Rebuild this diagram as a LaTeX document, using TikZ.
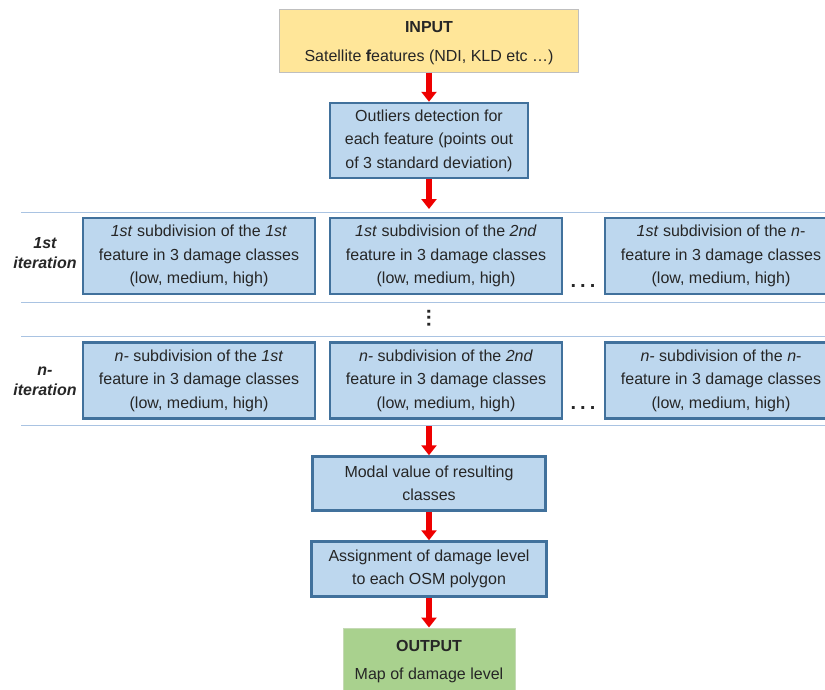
\documentclass[tikz,border=0pt]{standalone}
\usepackage{fontspec}
\setmainfont{Liberation Sans}
\usetikzlibrary{arrows.meta}
\definecolor{txt}{HTML}{262626}
\definecolor{inyellow}{HTML}{FFE699}
\definecolor{ingray}{HTML}{BFBFBF}
\definecolor{boxblue}{HTML}{BDD7EE}
\definecolor{boxedge}{HTML}{41719C}
\definecolor{outgreen}{HTML}{A9D18E}
\definecolor{outedge}{HTML}{C5D9B5}
\definecolor{sepline}{HTML}{A9C3E2}
\definecolor{arrred}{HTML}{EE0000}
\tikzset{
  every node/.style={text=txt, font=\fontsize{16}{23.5}\selectfont, inner sep=0pt},
  bluebox/.style={draw=boxedge, line width=2.5pt, fill=boxblue, align=center},
  rowbox/.style={bluebox, minimum width=232pt, minimum height=76pt},
  inbox/.style={draw=ingray, line width=1pt, fill=inyellow, align=center},
  outbox/.style={draw=outedge, line width=1pt, fill=outgreen, align=center},
  iterlabel/.style={align=center, font=\fontsize{16}{20}\selectfont\bfseries\itshape},
  sep/.style={draw=sepline, line width=1.5pt},
  redarrow/.style={draw=arrred, line width=6pt, -{Triangle[width=15pt,length=10pt]}, fill=arrred},
  dots/.style={font=\fontsize{20}{20}\selectfont\bfseries}
}
\begin{document}
\begin{tikzpicture}[x=1pt, y=-1pt]
\useasboundingbox (0,0) rectangle (825,689);
\clip (0,0) rectangle (825,689);

% separator lines
\draw[sep] (21,212.7) -- (825,212.7);
\draw[sep] (21,302.5) -- (825,302.5);
\draw[sep] (21,336.7) -- (825,336.7);
\draw[sep] (21,425.3) -- (825,425.3);

% input
\node[inbox, minimum width=299pt, minimum height=63pt] (input) at (429,40.5) {};
\node (inputT) at (429,27) {\textbf{INPUT}};
\node (inputS) at (429,57) {Satellite \textbf{f}eatures (NDI, KLD etc \dots)};

% outliers
\node[bluebox, minimum width=198pt, minimum height=75pt] (outl) at (429,140.5)
  {Outliers detection for\\each feature (points out\\of 3 standard deviation)};

\coordinate (a2end) at (429,209);
\coordinate (a3start) at (429,426);

% iteration labels
\node[iterlabel] (it1) at (45,253) {1st\\iteration};
\node[iterlabel] (itn) at (45,381) {n-\\iteration};

% row 1
\node[rowbox] (r11) at (199,256) {\textit{1st} subdivision of the \textit{1st}\\feature in 3 damage classes\\(low, medium, high)};
\node[rowbox] (r12) at (446,256) {\textit{1st} subdivision of the \textit{2nd}\\feature in 3 damage classes\\(low, medium, high)};
\node[rowbox] (r13) at (721,256) {\textit{1st} subdivision of the \textit{n}-\\feature in 3 damage classes\\(low, medium, high)};
\node[dots] (d1) at (583,286) {.\kern4pt.\kern4pt.};

% vertical dots
\node[dots, rotate=90] (vd) at (429,318) {.\kern1pt.\kern1pt.};

% row n
\node[rowbox] (rn1) at (199,380.5) {\textit{n-} subdivision of the \textit{1st}\\feature in 3 damage classes\\(low, medium, high)};
\node[rowbox] (rn2) at (446,380.5) {\textit{n-} subdivision of the \textit{2nd}\\feature in 3 damage classes\\(low, medium, high)};
\node[rowbox] (rn3) at (721,380.5) {\textit{n-} subdivision of the \textit{n}-\\feature in 3 damage classes\\(low, medium, high)};
\node[dots] (d2) at (583,408) {.\kern4pt.\kern4pt.};

% modal, assignment
\node[bluebox, minimum width=233pt, minimum height=54pt] (modal) at (429,483.5)
  {Modal value of resulting\\classes};
\node[bluebox, minimum width=235pt, minimum height=55pt] (assign) at (429,569)
  {Assignment of damage level\\to each OSM polygon};

% output
\node[outbox, minimum width=172pt, minimum height=72pt] (output) at (429,664) {};
\node (outT) at (429,646) {\textbf{OUTPUT}};
\node (outS) at (429,675) {Map of damage level};

% arrows
\draw[redarrow] (input.south) -- (outl.north);
\draw[redarrow] (outl.south) -- (a2end);
\draw[redarrow] (a3start) -- (modal.north);
\draw[redarrow] (modal.south) -- (assign.north);
\draw[redarrow] (assign.south) -- (output.north);
\end{tikzpicture}
\end{document}
